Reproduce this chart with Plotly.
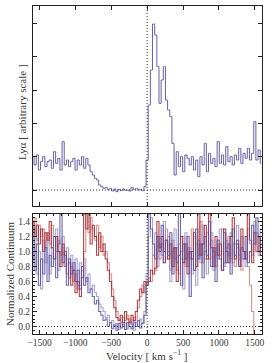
import plotly.graph_objects as go
from plotly.subplots import make_subplots

# velocity grid (km/s), bin centres
velocity = list(range(-1590, 1601, 30))

lya_flux = [1.0, 0.75, 1.05, 0.6, 0.85, 1.0, 0.7, 0.85, 0.9, 0.65,
            1.15, 0.8, 0.95, 0.6, 1.45, 0.75, 0.9, 0.7, 0.85, 0.95,
            0.6, 0.9, 0.75, 1.0, 0.65, 0.95, 0.75, 0.55, 0.45, 0.35,
            0.3, 0.15, 0.1, 0.05, 0.08, 0.02, 0.05, -0.03, 0.03, -0.05,
            0.02, -0.02, 0.03, -0.01, 0.0, -0.03, 0.07, 0.02, 0.04, 0.0,
            0.02, -0.02, 0.1, 0.9, 2.55, 3.6, 4.98, 4.65, 3.7, 2.6,
            3.3, 3.7, 2.7, 2.4, 2.2, 1.4, 0.45, 1.15, 0.7, 1.0,
            0.55, 1.05, 0.95, 0.75, 1.0, 0.6, 0.9, 0.4, 1.0, 0.75,
            1.4, 0.55, 1.1, 0.8, 0.95, 0.7, 1.45, 0.8, 1.05, 0.75,
            1.3, 0.85, 1.0, 0.75, 1.05, 0.9, 1.25, 0.8, 1.1, 0.95,
            1.25, 0.9, 1.1, 2.05, 0.9, 1.2, 0.8]

blue_a = [1.2, 0.75, 1.1, 0.55, 0.9, 0.7, 1.05, 0.6, 0.95, 0.8,
          1.2, 0.65, 1.1, 1.5, 0.85, 1.0, 0.55, 0.9, 0.7, 0.85,
          0.6, 0.75, 0.5, 0.8, 0.55, 0.65, 0.45, 0.5, 0.4, 0.3,
          0.35, 0.2, 0.15, 0.08, 0.1, 0.0, 0.05, -0.03, 0.02, -0.05,
          0.04, -0.02, 0.03, -0.04, 0.05, 0.0, -0.03, 0.06, 0.0, 0.08,
          -0.02, 0.04, 0.15, 0.55, 1.5, 1.3, 1.1, 0.9, 1.2, 1.0,
          1.35, 0.85, 1.15, 0.95, 1.25, 0.7, 1.05, 0.85, 1.5, 0.55,
          1.1, 0.9, 1.2, 0.4, 1.0, 0.75, 1.3, 0.9, 1.1, 0.65,
          1.2, 0.95, 1.4, 0.8, 1.05, 0.6, 1.15, 0.9, 0.75, 1.25,
          0.85, 1.1, 0.7, 1.3, 0.95, 1.15, 0.8, 1.05, 0.9, 1.2,
          0.85, 1.0, 1.35, 1.1, 1.45, 1.2, 1.0]

blue_b = [0.9, 1.3, 0.7, 1.0, 0.5, 1.15, 0.85, 1.25, 0.7, 1.05,
          0.9, 1.3, 0.75, 1.0, 1.2, 0.8, 1.05, 0.65, 0.95, 0.75,
          0.9, 0.55, 0.85, 0.65, 0.9, 0.6, 0.7, 0.5, 0.55, 0.45,
          0.4, 0.3, 0.25, 0.2, 0.12, 0.15, 0.05, 0.08, 0.0, 0.04,
          -0.04, 0.06, 0.0, 0.05, -0.03, 0.07, 0.02, -0.05, 0.05, 0.0,
          0.1, 0.05, 0.2, 0.7, 1.2, 1.45, 0.95, 1.25, 0.8, 1.1,
          0.95, 1.4, 0.9, 1.2, 0.6, 1.0, 1.3, 0.75, 1.1, 0.9,
          0.5, 1.25, 0.8, 1.05, 0.7, 1.2, 0.55, 1.15, 0.85, 1.35,
          0.9, 0.7, 1.1, 1.25, 0.75, 1.05, 0.9, 1.3, 1.0, 0.8,
          1.15, 0.95, 1.25, 0.85, 1.1, 1.35, 0.9, 1.2, 1.0, 0.8,
          1.3, 1.1, 0.95, 1.4, 1.25, 0.95, 1.3]

red_a = [1.4, 1.2, 1.35, 1.1, 1.3, 1.0, 1.25, 1.15, 1.4, 1.05,
         0.9, 1.2, 1.0, 0.8, 1.1, 0.95, 0.7, 0.85, 0.55, 0.75,
         0.45, 0.6, 0.4, 0.65, 1.5, 1.3, 1.5, 1.1, 1.35, 1.2,
         0.95, 1.25, 1.0, 1.1, 0.9, 0.75, 0.6, 0.4, 0.25, 0.12,
         0.08, 0.15, 0.05, 0.2, 0.1, 0.05, 0.15, 0.08, 0.2, 0.35,
         0.5, 0.45, 0.6, 0.55, 0.6, 0.75, 0.7, 0.78, 1.4, 1.05,
         1.2, 1.0, 1.15, 0.9, 1.1, 0.8, 1.05, 0.6, 0.95, 1.2,
         0.85, 1.1, 0.7, 1.0, 0.9, 1.25, 0.8, 1.5, 0.95, 1.1,
         1.35, 0.9, 1.5, 1.05, 0.8, 1.2, 0.95, 1.1, 0.75, 1.3,
         1.0, 0.85, 1.2, 1.45, 0.9, 1.1, 0.8, 1.3, 1.0, 0.9,
         1.5, 1.15, 0.85, 1.25, 1.0, 1.2, 0.95]

red_b = [1.25, 1.45, 1.15, 1.35, 1.2, 1.3, 1.05, 1.25, 1.1, 1.35,
         1.2, 1.0, 1.15, 0.95, 1.05, 0.8, 0.9, 0.65, 0.8, 0.6,
         0.7, 0.5, 0.55, 0.75, 1.0, 1.5, 1.25, 1.45, 1.3, 1.15,
         1.35, 1.05, 1.2, 0.95, 1.0, 0.85, 0.7, 0.5, 0.35, 0.2,
         0.1, 0.05, 0.12, 0.08, 0.15, 0.1, 0.03, 0.12, 0.1, 0.25,
         0.4, 0.55, 0.45, 0.6, 0.65, 0.6, 0.95, 0.75, 1.2, 0.9,
         1.1, 0.85, 1.3, 1.0, 0.75, 1.15, 0.9, 1.05, 0.7, 1.0,
         1.2, 0.8, 1.05, 0.9, 1.3, 0.75, 1.1, 0.95, 1.4, 0.85,
         1.0, 1.25, 0.9, 1.15, 1.0, 0.8, 1.1, 0.95, 1.3, 0.85,
         1.05, 1.2, 0.9, 1.1, 0.8, 1.05, 0.95, 0.75, 0.9, 1.0,
         0.8, 0.55, 0.2, -0.2, -0.2, -0.2, -0.2]

x_ticks = [-1500, -1000, -500, 0, 500, 1000, 1500]
y_ticks_bottom = [0.0, 0.2, 0.4, 0.6, 0.8, 1.0, 1.2, 1.4]
y_ticks_top = [0, 1, 2, 3, 4, 5]

FONT = "Liberation Serif"
TXT = "#3a3a3a"
BLUE_D = "#5a4f9f"
BLUE_L = "#8c86c4"
RED_D = "#a82428"
RED_L = "#cc6f70"

W, H = 273, 363
ML, MR, MT, MB = 33, 11, 6, 29

fig = make_subplots(rows=2, cols=1, shared_xaxes=False,
                    row_heights=[200, 120], vertical_spacing=8 / 328)

fig.add_trace(go.Scatter(x=velocity, y=lya_flux, mode="lines",
                         line=dict(color=BLUE_D, width=1.0, shape="hvh"),
                         opacity=0.9, showlegend=False), row=1, col=1)

for ys, col, op in [(red_b, RED_L, 0.75), (blue_b, BLUE_L, 0.75),
                    (red_a, RED_D, 0.85), (blue_a, BLUE_D, 0.85)]:
    fig.add_trace(go.Scatter(x=velocity, y=ys, mode="lines",
                             line=dict(color=col, width=1.1, shape="hvh"),
                             opacity=op, showlegend=False), row=2, col=1)

axis_common = dict(showline=True, linecolor="#222", linewidth=1, mirror="ticks",
                   ticks="inside", ticklen=4, tickcolor="#222", showgrid=False,
                   zeroline=False, automargin=False)

fig.update_xaxes(range=[-1590, 1600], tickvals=x_ticks, showticklabels=False,
                 **axis_common, row=1, col=1)
fig.update_yaxes(range=[-0.48, 5.52], tickvals=y_ticks_top, showticklabels=False,
                 **axis_common, row=1, col=1)
fig.update_xaxes(range=[-1590, 1600], tickvals=x_ticks,
                 tickfont=dict(size=9.5, family=FONT, color=TXT),
                 minor=dict(ticks="inside", ticklen=2, dtick=100, tickcolor="#222"),
                 **axis_common, row=2, col=1)
fig.update_yaxes(range=[-0.1, 1.5], tickvals=y_ticks_bottom, tickformat=".1f",
                 tickfont=dict(size=9.5, family=FONT, color=TXT),
                 minor=dict(ticks="inside", ticklen=2, dtick=0.05, tickcolor="#222"),
                 **axis_common, row=2, col=1)

# dotted reference lines
for xr, yr in [("x", "y"), ("x2", "y2")]:
    fig.add_shape(type="line", xref=xr, yref=yr, x0=-1590, x1=1600, y0=0, y1=0,
                  line=dict(color="#333", width=1, dash="1px,2px"))
    fig.add_shape(type="line", xref=xr, yref=yr + " domain", x0=0, x1=0, y0=0, y1=1,
                  line=dict(color="#333", width=1, dash="1px,2px"))

# axis titles as annotations (paper coords from pixel positions)
def px(x):
    return (x - ML) / (W - ML - MR)

def py(y):
    return (H - MB - y) / (H - MT - MB)

fig.add_annotation(text="Lyα [ arbitrary scale ]", x=px(22), y=py(112), xref="paper", yref="paper",
                   xanchor="center", yanchor="middle",
                   textangle=-90, showarrow=False, font=dict(size=11, family=FONT, color=TXT))
fig.add_annotation(text="Normalized Continuum", x=px(10), y=py(274), xref="paper", yref="paper",
                   xanchor="center", yanchor="middle",
                   textangle=-90, showarrow=False, font=dict(size=11, family=FONT, color=TXT))
fig.add_annotation(text="Velocity [ km s<sup>−1</sup> ]", x=px(147), y=py(354.5), xref="paper", yref="paper",
                   xanchor="center", yanchor="middle",
                   showarrow=False, font=dict(size=11, family=FONT, color=TXT))

fig.update_layout(width=W, height=H,
                  margin=dict(l=ML, r=MR, t=MT, b=MB),
                  paper_bgcolor="white", plot_bgcolor="white",
                  font=dict(family=FONT, size=10, color=TXT))

fig.write_html("out.html", config={"displayModeBar": False},
               post_script="document.body.style.margin='0';document.body.style.padding='0';")
